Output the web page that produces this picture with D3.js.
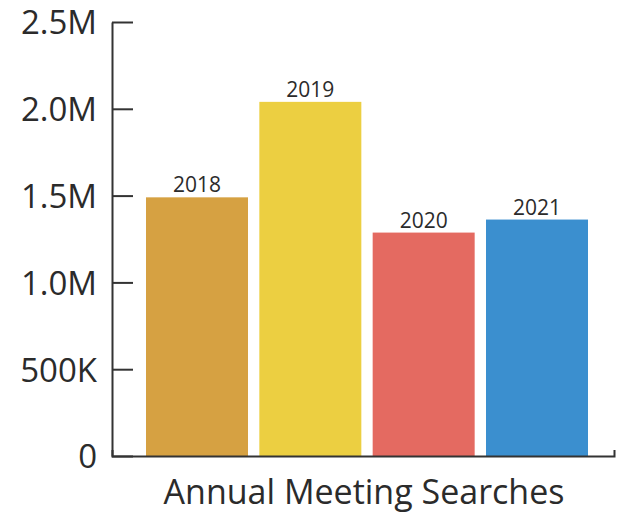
<!DOCTYPE html>
<html>
<head>
<meta charset="utf-8">
<script src="https://cdn.jsdelivr.net/npm/d3@7"></script>
<style>
  body { margin: 0; background: #fff; }
  svg { display: block; }
  text { font-family: "Open Sans", sans-serif; fill: #2b2b2b; }
</style>
</head>
<body>
<svg id="chart" width="622" height="515"></svg>
<script>
var years = ["2018", "2019", "2020", "2021"]
var searches = [1490000, 2040000, 1287000, 1362000]
var colors = ["#d6a142", "#eccf41", "#e46a61", "#3b8fcf"]
var yTicks = [0, 500000, 1000000, 1500000, 2000000, 2500000]
var yTickLabels = ["0", "500K", "1.0M", "1.5M", "2.0M", "2.5M"]
var title = "Annual Meeting Searches"

var width = 622, height = 515;
var svg = d3.select("#chart");

var y = d3.scaleLinear().domain([0, 2500000]).range([456, 22]);
var x = d3.scaleBand().domain(years).range([146, 588]).paddingInner(0.1).paddingOuter(0);
// the bottom line runs past the bars
var frame = d3.scaleLinear().domain([0, 1]).range([112, 614]);

var data = years.map(function(d, i) {
    return { year: d, value: searches[i], color: colors[i] }
})

svg.selectAll("rect.bar")
    .data(data)
    .join("rect")
    .attr("class", "bar")
    .attr("x", function(d) { return x(d.year) })
    .attr("y", function(d) { return y(d.value) })
    .attr("width", x.bandwidth())
    .attr("height", function(d) { return y(0) - y(d.value) })
    .attr("fill", function(d) { return d.color });

svg.selectAll("text.bar-label")
    .data(data)
    .join("text")
    .attr("class", "bar-label")
    .attr("x", function(d) { return x(d.year) + x.bandwidth() / 2 })
    .attr("y", function(d) { return y(d.value) - 5 })
    .attr("text-anchor", "middle")
    .style("font-size", "21px")
    .text(function(d) { return d.year });

var yAxis = svg.append("g")
    .attr("transform", "translate(112,0)")
    .call(d3.axisLeft(y)
        .tickValues(yTicks)
        .tickFormat(function(d, i) { return yTickLabels[i] })
        .tickSizeInner(-21)
        .tickSizeOuter(0)
        .tickPadding(15));

yAxis.selectAll("path, line").attr("stroke", "#333").attr("stroke-width", 2);
yAxis.selectAll("text")
    .style("font-family", "'Open Sans', sans-serif")
    .style("font-size", "33px")
    .attr("fill", "#2b2b2b")
    .attr("dy", "0.36em");

var xAxis = svg.append("g")
    .attr("transform", "translate(0,456)")
    .call(d3.axisBottom(frame).tickValues([]).tickSizeOuter(-6));

xAxis.selectAll("path").attr("stroke", "#333").attr("stroke-width", 2).attr("fill", "none");

svg.append("text")
    .attr("x", 364)
    .attr("y", 504)
    .attr("text-anchor", "middle")
    .style("font-size", "34px")
    .text(title);
</script>
</body>
</html>
